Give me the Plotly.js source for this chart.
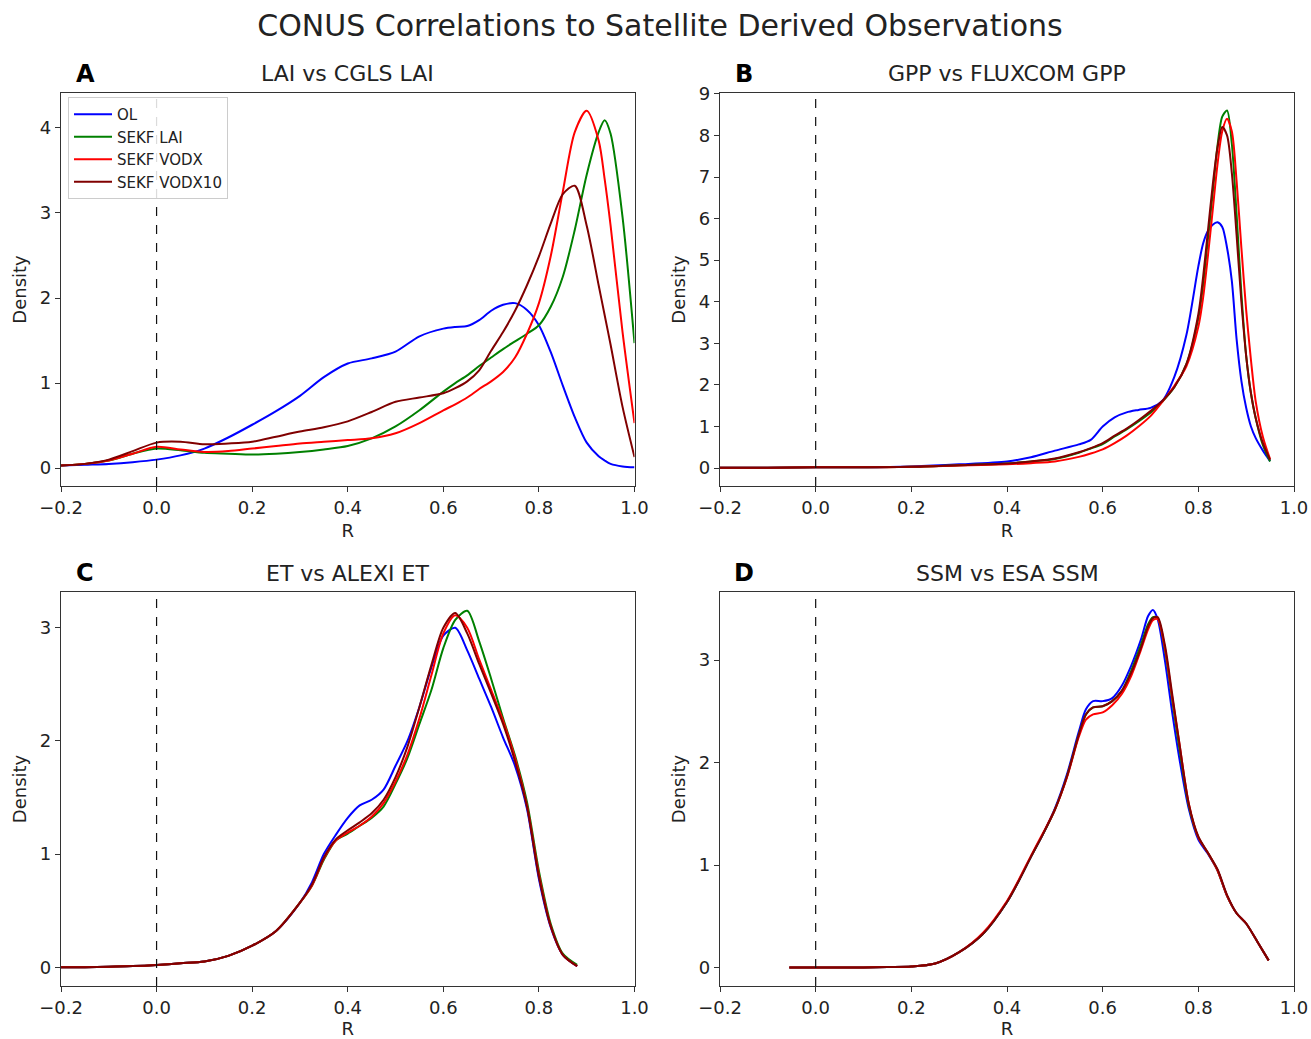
<!DOCTYPE html>
<html>
<head>
<meta charset="utf-8">
<script src="https://cdn.plot.ly/plotly-3.0.1.min.js"></script>
<style>html,body{margin:0;padding:0;background:#fff;}#chart{width:1311px;height:1039px;}</style>
</head>
<body>
<div id="chart"></div>
<script>
// ---------- DATA ----------
const seriesNames = ["OL", "SEKF LAI", "SEKF VODX", "SEKF VODX10"];
const seriesColors = ["#0000ff", "#008000", "#ff0000", "#800000"];

// Panel A: LAI vs CGLS LAI
const xA = [-0.2,-0.15,-0.1,-0.05,0,0.05,0.1,0.15,0.2,0.25,0.3,0.35,0.4,0.45,0.5,0.55,0.6,0.625,0.65,0.675,0.7,0.725,0.75,0.775,0.8,0.825,0.85,0.875,0.9,0.925,0.9375,0.95,0.975,1.0];
const aOL     = [0.03,0.04,0.05,0.07,0.10,0.15,0.23,0.36,0.51,0.67,0.85,1.07,1.23,1.29,1.37,1.55,1.64,1.66,1.67,1.74,1.85,1.92,1.94,1.86,1.68,1.36,0.97,0.60,0.30,0.14,0.09,0.05,0.02,0.01];
const aLAI    = [0.03,0.05,0.09,0.17,0.23,0.21,0.18,0.17,0.16,0.17,0.19,0.22,0.26,0.35,0.49,0.68,0.90,1.00,1.09,1.20,1.30,1.40,1.49,1.58,1.68,1.90,2.25,2.80,3.45,3.95,4.09,3.93,2.95,1.47];
const aVODX   = [0.03,0.05,0.09,0.17,0.25,0.22,0.19,0.20,0.23,0.26,0.29,0.31,0.33,0.35,0.41,0.53,0.68,0.75,0.83,0.93,1.02,1.13,1.30,1.58,1.94,2.50,3.25,3.95,4.20,3.85,3.40,2.85,1.60,0.53];
const aVODX10 = [0.03,0.05,0.10,0.20,0.30,0.31,0.28,0.29,0.31,0.37,0.43,0.48,0.55,0.66,0.78,0.83,0.88,0.94,1.02,1.15,1.38,1.60,1.85,2.15,2.49,2.88,3.22,3.32,2.85,2.15,1.80,1.45,0.72,0.13];

// Panel B: GPP vs FLUXCOM GPP
const xB = [-0.2,-0.1,0,0.1,0.2,0.3,0.4,0.45,0.5,0.55,0.575,0.6,0.625,0.65,0.675,0.7,0.725,0.75,0.775,0.8,0.81,0.82,0.83,0.84,0.85,0.86,0.87,0.88,0.89,0.9,0.91,0.92,0.935,0.95];
const bOL     = [0.01,0.01,0.02,0.02,0.04,0.09,0.16,0.26,0.42,0.57,0.68,1.00,1.22,1.34,1.40,1.45,1.62,2.20,3.20,4.85,5.40,5.70,5.85,5.91,5.80,5.30,4.50,3.10,2.10,1.45,1.00,0.72,0.42,0.17];
const bLAI    = [0.01,0.01,0.02,0.02,0.03,0.07,0.11,0.16,0.22,0.37,0.47,0.58,0.76,0.93,1.12,1.33,1.60,1.95,2.50,3.60,4.40,5.50,6.60,7.75,8.45,8.60,7.80,6.10,4.20,2.70,1.80,1.20,0.55,0.16];
const bVODX   = [0.01,0.01,0.02,0.02,0.03,0.06,0.09,0.12,0.16,0.27,0.35,0.45,0.60,0.78,1.00,1.25,1.60,1.98,2.45,3.40,4.10,5.10,6.20,7.30,8.10,8.40,8.10,6.90,5.30,3.80,2.60,1.60,0.75,0.22];
const bVODX10 = [0.01,0.01,0.02,0.02,0.03,0.07,0.11,0.16,0.23,0.38,0.48,0.60,0.78,0.95,1.15,1.37,1.62,1.95,2.50,3.70,4.60,5.70,6.80,7.70,8.20,8.00,7.10,5.60,4.00,2.70,1.80,1.20,0.60,0.20];

// Panel C: ET vs ALEXI ET
const xC = [-0.2,-0.15,-0.1,-0.05,0,0.05,0.1,0.15,0.2,0.25,0.3,0.325,0.35,0.375,0.4,0.425,0.45,0.475,0.5,0.525,0.55,0.575,0.6,0.625,0.65,0.675,0.7,0.725,0.75,0.775,0.8,0.825,0.85,0.88];
const cOL     = [0.0,0.0,0.005,0.01,0.02,0.035,0.05,0.10,0.19,0.32,0.57,0.75,1.00,1.17,1.32,1.43,1.48,1.57,1.78,2.00,2.30,2.65,2.93,3.00,2.80,2.55,2.30,2.03,1.78,1.40,0.78,0.35,0.11,0.01];
const cLAI    = [0.0,0.0,0.005,0.01,0.02,0.035,0.05,0.10,0.19,0.32,0.57,0.72,0.95,1.12,1.18,1.25,1.32,1.42,1.62,1.85,2.15,2.45,2.82,3.07,3.15,2.88,2.55,2.20,1.87,1.46,0.85,0.38,0.12,0.02];
const cVODX   = [0.0,0.0,0.005,0.01,0.02,0.035,0.05,0.10,0.19,0.32,0.57,0.72,0.96,1.12,1.19,1.25,1.33,1.45,1.64,1.88,2.20,2.58,2.95,3.11,3.00,2.72,2.45,2.18,1.85,1.43,0.82,0.36,0.11,0.01];
const cVODX10 = [0.0,0.0,0.005,0.01,0.02,0.035,0.05,0.10,0.19,0.32,0.57,0.73,0.97,1.13,1.21,1.28,1.36,1.48,1.68,1.95,2.30,2.67,3.00,3.13,2.95,2.68,2.42,2.15,1.82,1.42,0.80,0.36,0.11,0.01];

// Panel D: SSM vs ESA SSM
const xD = [-0.055,0,0.05,0.1,0.15,0.2,0.25,0.3,0.35,0.4,0.425,0.45,0.475,0.5,0.525,0.55,0.565,0.58,0.6,0.62,0.64,0.66,0.68,0.695,0.705,0.715,0.73,0.745,0.76,0.78,0.8,0.82,0.84,0.86,0.88,0.9,0.925,0.947];
const dOL     = [0.0,0.0,0.0,0.0,0.005,0.01,0.04,0.15,0.33,0.64,0.85,1.08,1.30,1.55,1.88,2.30,2.52,2.60,2.60,2.63,2.75,2.95,3.20,3.43,3.49,3.40,3.00,2.50,2.05,1.55,1.25,1.11,0.95,0.70,0.53,0.43,0.24,0.07];
const dLAI    = [0.0,0.0,0.0,0.0,0.005,0.01,0.04,0.15,0.33,0.64,0.85,1.08,1.30,1.54,1.86,2.27,2.47,2.54,2.55,2.60,2.70,2.90,3.15,3.35,3.42,3.41,3.10,2.62,2.15,1.58,1.27,1.12,0.95,0.70,0.53,0.43,0.24,0.07];
const dVODX   = [0.0,0.0,0.0,0.0,0.005,0.01,0.04,0.15,0.34,0.65,0.86,1.09,1.31,1.54,1.85,2.25,2.42,2.47,2.49,2.56,2.67,2.85,3.10,3.30,3.39,3.40,3.12,2.65,2.20,1.60,1.27,1.12,0.95,0.70,0.53,0.43,0.24,0.07];
const dVODX10 = [0.0,0.0,0.0,0.0,0.005,0.01,0.04,0.15,0.33,0.64,0.85,1.08,1.30,1.54,1.86,2.27,2.47,2.54,2.55,2.60,2.70,2.88,3.12,3.33,3.41,3.42,3.15,2.68,2.20,1.60,1.28,1.12,0.96,0.71,0.53,0.43,0.24,0.07];

const panelTitles = ["LAI vs CGLS LAI", "GPP vs FLUXCOM GPP", "ET vs ALEXI ET", "SSM vs ESA SSM"];
const panelLetters = ["A", "B", "C", "D"];
const xTicks = [-0.2, 0.0, 0.2, 0.4, 0.6, 0.8, 1.0];
const yTicksA = [0,1,2,3,4];
const yTicksB = [0,1,2,3,4,5,6,7,8,9];
const yTicksC = [0,1,2,3];
const yTicksD = [0,1,2,3];

// ---------- BUILD ----------
const W = 1311, H = 1039;
const px = v => v / W;
const py = v => 1 - v / H;

const panels = [
  {x: xA, ys: [aOL, aLAI, aVODX, aVODX10], yr: [-0.21, 4.41], yt: yTicksA, dx: [61, 634.5], dy: [93, 486]},
  {x: xB, ys: [bOL, bLAI, bVODX, bVODX10], yr: [-0.43, 9.02], yt: yTicksB, dx: [720, 1294], dy: [93, 486]},
  {x: xC, ys: [cOL, cLAI, cVODX, cVODX10], yr: [-0.166, 3.316], yt: yTicksC, dx: [61, 634.5], dy: [592, 986]},
  {x: xD, ys: [dOL, dLAI, dVODX, dVODX10], yr: [-0.18, 3.665], yt: yTicksD, dx: [720, 1294], dy: [592, 986]}
];

const data = [];
const layout = {
  width: W, height: H,
  margin: {l: 0, r: 0, t: 0, b: 0},
  paper_bgcolor: "#fff", plot_bgcolor: "#fff",
  font: {family: "DejaVu Sans, sans-serif", color: "#222", size: 18},
  showlegend: true,
  title: {text: "CONUS Correlations to Satellite Derived Observations", x: 660 / W, xanchor: "center", y: py(25), yanchor: "middle", xref: "paper", yref: "paper", font: {size: 30, color: "#222"}},
  legend: {x: px(68), y: py(97), xanchor: "left", yanchor: "top", itemwidth: 38, bgcolor: "rgba(255,255,255,0.85)", bordercolor: "#cccccc", borderwidth: 1, font: {size: 15, color: "#222"}},
  annotations: [],
  shapes: []
};

panels.forEach((p, i) => {
  const n = i + 1;
  const xa = n === 1 ? "x" : "x" + n;
  const ya = n === 1 ? "y" : "y" + n;
  const xk = n === 1 ? "xaxis" : "xaxis" + n;
  const yk = n === 1 ? "yaxis" : "yaxis" + n;
  p.ys.forEach((ys, s) => {
    data.push({
      type: "scatter", mode: "lines", x: p.x, y: ys, name: seriesNames[s],
      xaxis: xa, yaxis: ya, showlegend: i === 0,
      line: {color: seriesColors[s], width: 2, shape: "spline", smoothing: 0.8}
    });
  });
  layout[xk] = {
    domain: [px(p.dx[0]), px(p.dx[1])], anchor: ya, range: [-0.2, 1.0],
    tickvals: xTicks, tickformat: ".1f", ticks: "outside", ticklen: 5, tickcolor: "#333",
    showline: true, linecolor: "#333", linewidth: 1.3, mirror: true, showgrid: false, zeroline: false,
    tickfont: {size: 18, color: "#222"},
    title: {text: "R", font: {size: 18, color: "#222"}, standoff: 7}
  };
  layout[yk] = {
    domain: [py(p.dy[1]), py(p.dy[0])], anchor: xa, range: p.yr,
    tickvals: p.yt, ticks: "outside", ticklen: 5, tickcolor: "#333",
    showline: true, linecolor: "#333", linewidth: 1.3, mirror: true, showgrid: false, zeroline: false,
    tickfont: {size: 18, color: "#222"},
    title: {text: "Density", font: {size: 18, color: "#222"}, standoff: 8}
  };
  layout.shapes.push({type: "line", xref: xa, yref: ya + " domain", x0: 0, x1: 0, y0: 0, y1: 1,
    line: {color: "#111", width: 1.2, dash: "dash"}});
  const cx = (p.dx[0] + p.dx[1]) / 2;
  const ty = p.dy[0] - 19;
  layout.annotations.push({text: panelTitles[i], xref: "paper", yref: "paper", x: px(cx), y: py(ty),
    xanchor: "center", yanchor: "middle", showarrow: false, font: {size: 22, color: "#222"}});
  layout.annotations.push({text: "<b>" + panelLetters[i] + "</b>", xref: "paper", yref: "paper", x: px(p.dx[0] + 24), y: py(ty),
    xanchor: "center", yanchor: "middle", showarrow: false, font: {size: 24, color: "#000"}});
});

Plotly.newPlot("chart", data, layout, {staticPlot: true, displayModeBar: false});
</script>
</body>
</html>
